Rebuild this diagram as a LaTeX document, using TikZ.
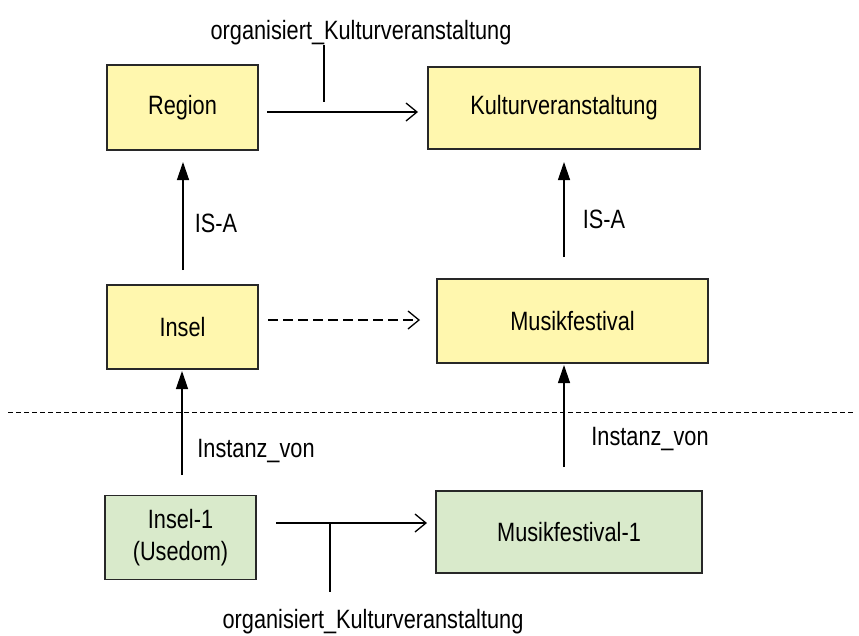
\documentclass[tikz,border=0pt]{standalone}
\usepackage{fontspec}
\setmainfont[FakeStretch=0.82]{Liberation Sans}
\usetikzlibrary{arrows.meta}
\definecolor{classfill}{RGB}{255,247,174}
\definecolor{instfill}{RGB}{217,234,203}
\definecolor{boxline}{RGB}{40,40,40}
\begin{document}
\begin{tikzpicture}[x=1pt,y=-1pt,
  every node/.style={font=\fontsize{26.5}{32}\selectfont, inner sep=0pt, outer sep=0pt},
  box/.style={draw=boxline, line width=1.4pt, align=center},
  classbox/.style={box, fill=classfill},
  instbox/.style={box, fill=instfill},
  rel/.style={line width=1.3pt, -{Straight Barb[length=11pt,width=18pt,line width=1.3pt]}},
  isa/.style={line width=1.3pt, -{Triangle[length=18pt,width=12pt]}},
  tick/.style={line width=1.3pt},
  lbl/.style={anchor=base}
]
\useasboundingbox (0,0) rectangle (859,635);

% classes
\node[classbox, minimum width=151pt, minimum height=85pt] (region) at (182.5,107.5) {Region};
\node[classbox, minimum width=272pt, minimum height=82pt] (kultur) at (564,108) {Kulturveranstaltung};
\node[classbox, minimum width=151pt, minimum height=84pt] (insel) at (182.5,327) {Insel};
\node[classbox, minimum width=271pt, minimum height=84pt] (musik) at (572.5,321) {Musikfestival};

% instances
\node[instbox, minimum width=151pt, minimum height=84pt] (insel1) at (180.5,537.5) {Insel-1\\(Usedom)};
\node[instbox, minimum width=266pt, minimum height=82pt] (musik1) at (569,532) {Musikfestival-1};

% relation between classes
\coordinate (r1) at (267,112);
\coordinate (r2) at (418,112);
\draw[rel] (r1) -- (r2);
\node[lbl] (toplabel) at (361,39) {organisiert\_Kulturveranstaltung};
\coordinate (t1) at (324,45);
\coordinate (t2) at (324,102);
\draw[tick] (t1) -- (t2);

% is-a arrows
\coordinate (ia1) at (183,270);
\coordinate (ia2) at (183,162);
\draw[isa] (ia1) -- (ia2);
\node[lbl] (isa1) at (216,232) {IS-A};
\coordinate (ib1) at (564,257);
\coordinate (ib2) at (564,162);
\draw[isa] (ib1) -- (ib2);
\node[lbl] (isa2) at (604,228) {IS-A};

% derived relation
\coordinate (d1) at (268,320);
\coordinate (d2) at (420,320);
\draw[rel, dash pattern=on 10pt off 5pt] (d1) -- (d2);

% separator between schema and instance level
\coordinate (s1) at (8,412);
\coordinate (s2) at (855,412);
\draw[line width=1pt, dash pattern=on 5pt off 3pt] (s1) -- (s2);

% instance-of arrows
\coordinate (ic1) at (182,475);
\coordinate (ic2) at (182,371);
\draw[isa] (ic1) -- (ic2);
\node[lbl] (inst1) at (256,457) {Instanz\_von};
\coordinate (id1) at (564,467);
\coordinate (id2) at (564,365);
\draw[isa] (id1) -- (id2);
\node[lbl] (inst2) at (650,445) {Instanz\_von};

% relation between instances
\coordinate (b1) at (276,523);
\coordinate (b2) at (427,523);
\draw[rel] (b1) -- (b2);
\coordinate (bt1) at (330,523);
\coordinate (bt2) at (330,592);
\draw[tick] (bt1) -- (bt2);
\node[lbl] (botlabel) at (373,628) {organisiert\_Kulturveranstaltung};
\end{tikzpicture}
\end{document}
